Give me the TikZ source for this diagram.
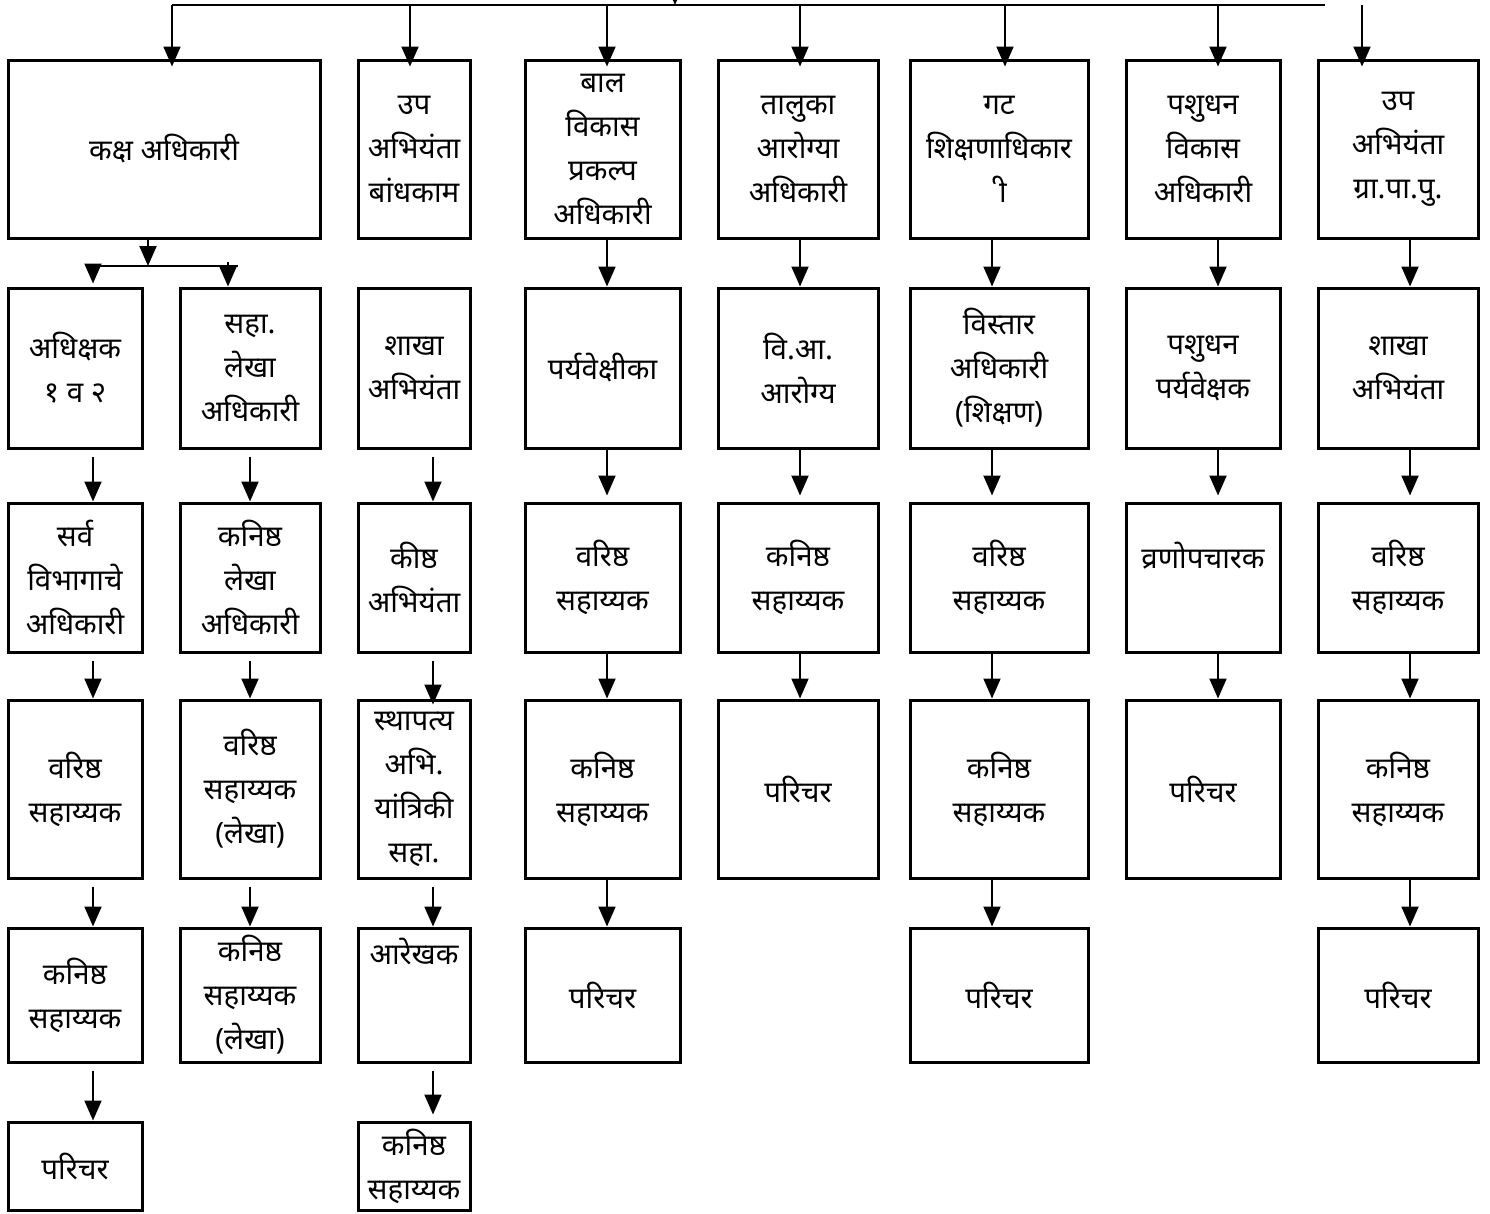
\documentclass[tikz,border=0pt]{standalone}
\usepackage{fontspec}
\newfontfamily\deva[Script=Devanagari]{Noto Sans}
\usetikzlibrary{arrows.meta}

\tikzset{
    post/.style={draw, line width=3pt, inner sep=0pt, align=center,
        font=\deva\fontsize{29.5}{44}\selectfont},
    arr/.style={line width=2pt, -{Triangle[width=17pt,length=20pt]}},
    bus/.style={line width=2.5pt},
    % column widths
    colA/.style={minimum width=134pt}, colB/.style={minimum width=140pt},
    colC/.style={minimum width=112pt}, colD/.style={minimum width=155pt},
    colE/.style={minimum width=160pt}, colF/.style={minimum width=178pt},
    colG/.style={minimum width=154pt}, colH/.style={minimum width=160pt},
    % row heights
    row1/.style={minimum height=178pt}, row2/.style={minimum height=160pt},
    row3/.style={minimum height=149pt}, row4/.style={minimum height=178pt},
    row5/.style={minimum height=134pt}, row6/.style={minimum height=88pt}
}

\begin{document}
\begin{tikzpicture}[x=1pt, y=-1pt]
    \useasboundingbox (0,0) rectangle (1490,1213);

    % arrow columns
    \coordinate (xA) at (93,0);
    \coordinate (xB) at (250,0);
    \coordinate (xC) at (433,0);
    \coordinate (xD) at (607,0);
    \coordinate (xE) at (800,0);
    \coordinate (xF) at (992,0);
    \coordinate (xG) at (1218,0);
    \coordinate (xH) at (1410,0);

    % row 1
    \node[post, minimum width=312pt, row1] (kaksha) at (164,149) {कक्ष अधिकारी};
    \node[post, colC, row1] (upBandh) at (414,149) {उप\\अभियंता\\बांधकाम};
    \node[post, colD, row1] (bal) at (602.5,149) {बाल\\विकास\\प्रकल्प\\अधिकारी};
    \node[post, colE, row1] (taluka) at (798,149) {तालुका\\आरोग्या\\अधिकारी};
    \node[post, colF, row1] (gat) at (999,149) {गट\\शिक्षणाधिकार\\^^^^00a0ी};
    \node[post, colG, row1] (pashu) at (1203,149) {पशुधन\\विकास\\अधिकारी};
    \node[post, colH, row1] (upGrapa) at (1398,149) {उप\\अभियंता\\ग्रा.पा.पु.};

    % row 2
    \node[post, colA, row2] (adhikshak) at (75,368) {अधिक्षक\\१ व २};
    \node[post, colB, row2] (sahaLekha) at (250,368) {सहा.\\लेखा\\अधिकारी};
    \node[post, colC, row2] (shakhaB) at (414,368) {शाखा\\अभियंता};
    \node[post, colD, row2] (paryav) at (602.5,368) {पर्यवेक्षीका};
    \node[post, colE, row2] (viA) at (798,368) {वि.आ.\\आरोग्य};
    \node[post, colF, row2] (vistar) at (999,368) {विस्तार\\अधिकारी\\(शिक्षण)};
    \node[post, colG, row2] (pashuPar) at (1203,368) {पशुधन\\पर्यवेक्षक};
    \node[post, colH, row2] (shakhaG) at (1398,368) {शाखा\\अभियंता};

    % row 3
    \node[post, colA, row3] (sarva) at (75,577.5) {सर्व\\विभागाचे\\अधिकारी};
    \node[post, colB, row3] (kanLekha) at (250,577.5) {कनिष्ठ\\लेखा\\अधिकारी};
    \node[post, colC, row3] (kishth) at (414,577.5) {कीष्ठ\\अभियंता};
    \node[post, colD, row3] (varBal) at (602.5,577.5) {वरिष्ठ\\सहाय्यक};
    \node[post, colE, row3] (kanTaluka) at (798,577.5) {कनिष्ठ\\सहाय्यक};
    \node[post, colF, row3] (varGat) at (999,577.5) {वरिष्ठ\\सहाय्यक};
    \node[post, colG, row3] (vrana) at (1203,577.5) {व्रणोपचारक\\\mbox{}};
    \node[post, colH, row3] (varGrapa) at (1398,577.5) {वरिष्ठ\\सहाय्यक};

    % row 4
    \node[post, colA, row4] (varA) at (75,789) {वरिष्ठ\\सहाय्यक};
    \node[post, colB, row4] (varLekha) at (250,789) {वरिष्ठ\\सहाय्यक\\(लेखा)};
    \node[post, colC, row4] (sthapatya) at (414,789) {स्थापत्य\\अभि.\\यांत्रिकी\\सहा.};
    \node[post, colD, row4] (kanBal) at (602.5,789) {कनिष्ठ\\सहाय्यक};
    \node[post, colE, row4] (parTaluka) at (798,789) {परिचर};
    \node[post, colF, row4] (kanGat) at (999,789) {कनिष्ठ\\सहाय्यक};
    \node[post, colG, row4] (parPashu) at (1203,789) {परिचर};
    \node[post, colH, row4] (kanGrapa) at (1398,789) {कनिष्ठ\\सहाय्यक};

    % row 5
    \node[post, colA, row5] (kanA) at (75,995) {कनिष्ठ\\सहाय्यक};
    \node[post, colB, row5] (kanLekhaB) at (250,995) {कनिष्ठ\\सहाय्यक\\(लेखा)};
    \node[post, colC, row5] (arekhak) at (414,995) {आरेखक\\\mbox{}\\\mbox{}};
    \node[post, colD, row5] (parBal) at (602.5,995) {परिचर};
    \node[post, colF, row5] (parGat) at (999,995) {परिचर};
    \node[post, colH, row5] (parGrapa) at (1398,995) {परिचर};

    % row 6
    \node[post, colA, row6] (parA) at (75,1166) {परिचर};
    \node[post, colC, row6] (kanB) at (414,1166) {कनिष्ठ\\सहाय्यक};

    % top bus
    \coordinate (busL) at (172,5);
    \coordinate (busR) at (1325,5);
    \coordinate (busIn) at (675,5);
    \coordinate (above) at (675,-30);
    \coordinate (bB) at (410,5);
    \coordinate (bH) at (1362,5);
    \draw[bus] (busL) -- (busR);
    \draw[arr] (above) -- (busIn);
    \draw[arr] (busL) -- ([yshift=-8pt]kaksha.north -| busL);
    \draw[arr] (bB) -- ([yshift=-8pt]upBandh.north -| bB);
    \draw[arr] (bal.north |- busL) ++(4.5,0) -- ([yshift=-8pt,xshift=4.5pt]bal.north);
    \draw[arr] (xE |- busL) -- ([yshift=-8pt]taluka.north -| xE);
    \draw[arr] (1005,5) -- ([yshift=-8pt]gat.north -| 1005,0);
    \draw[arr] (xG |- busL) -- ([yshift=-8pt]pashu.north -| xG);
    \draw[arr] (bH) -- ([yshift=-8pt]upGrapa.north -| bH);

    % split under kaksha
    \coordinate (split) at (148,266);
    \coordinate (splitL) at (93,266);
    \coordinate (splitR) at (238,266);
    \coordinate (splitB) at (228,262);
    \draw[arr] (kaksha.south -| split) -- (split);
    \draw[bus] (splitL) -- (splitR);
    \draw[arr] (splitL) -- ([yshift=3pt]adhikshak.north -| splitL);
    \draw[arr] (splitB) -- (sahaLekha.north -| splitB);

    % row 1 to row 2
    \draw[arr] (bal.south -| xD) -- (paryav.north -| xD);
    \draw[arr] (taluka.south -| xE) -- (viA.north -| xE);
    \draw[arr] (gat.south -| xF) -- (vistar.north -| xF);
    \draw[arr] (pashu.south -| xG) -- (pashuPar.north -| xG);
    \draw[arr] (upGrapa.south -| xH) -- (shakhaG.north -| xH);

    % row 2 to row 3
    \draw[arr, shorten <=7pt] (adhikshak.south -| xA) -- (sarva.north -| xA);
    \draw[arr, shorten <=7pt] (sahaLekha.south -| xB) -- (kanLekha.north -| xB);
    \draw[arr, shorten <=7pt] (shakhaB.south -| xC) -- (kishth.north -| xC);
    \draw[arr, shorten >=6pt] (paryav.south -| xD) -- (varBal.north -| xD);
    \draw[arr, shorten >=6pt] (viA.south -| xE) -- (kanTaluka.north -| xE);
    \draw[arr, shorten >=6pt] (vistar.south -| xF) -- (varGat.north -| xF);
    \draw[arr, shorten >=6pt] (pashuPar.south -| xG) -- (vrana.north -| xG);
    \draw[arr, shorten >=6pt] (shakhaG.south -| xH) -- (varGrapa.north -| xH);

    % row 3 to row 4
    \draw[arr, shorten <=7pt] (sarva.south -| xA) -- (varA.north -| xA);
    \draw[arr, shorten <=7pt] (kanLekha.south -| xB) -- (varLekha.north -| xB);
    \draw[arr, shorten <=7pt] (kishth.south -| xC) -- ([yshift=-6pt]sthapatya.north -| xC);
    \draw[arr] (varBal.south -| xD) -- (kanBal.north -| xD);
    \draw[arr] (kanTaluka.south -| xE) -- (parTaluka.north -| xE);
    \draw[arr] (varGat.south -| xF) -- (kanGat.north -| xF);
    \draw[arr] (vrana.south -| xG) -- (parPashu.north -| xG);
    \draw[arr] (varGrapa.south -| xH) -- (kanGrapa.north -| xH);

    % row 4 to row 5
    \draw[arr, shorten <=7pt] (varA.south -| xA) -- (kanA.north -| xA);
    \draw[arr, shorten <=7pt] (varLekha.south -| xB) -- (kanLekhaB.north -| xB);
    \draw[arr, shorten <=7pt] (sthapatya.south -| xC) -- (arekhak.north -| xC);
    \draw[arr] (kanBal.south -| xD) -- (parBal.north -| xD);
    \draw[arr] (kanGat.south -| xF) -- (parGat.north -| xF);
    \draw[arr] (kanGrapa.south -| xH) -- (parGrapa.north -| xH);

    % row 5 to row 6
    \draw[arr, shorten <=7pt] (kanA.south -| xA) -- (parA.north -| xA);
    \draw[arr, shorten <=7pt] (arekhak.south -| xC) -- ([yshift=6pt]kanB.north -| xC);
\end{tikzpicture}
\end{document}
